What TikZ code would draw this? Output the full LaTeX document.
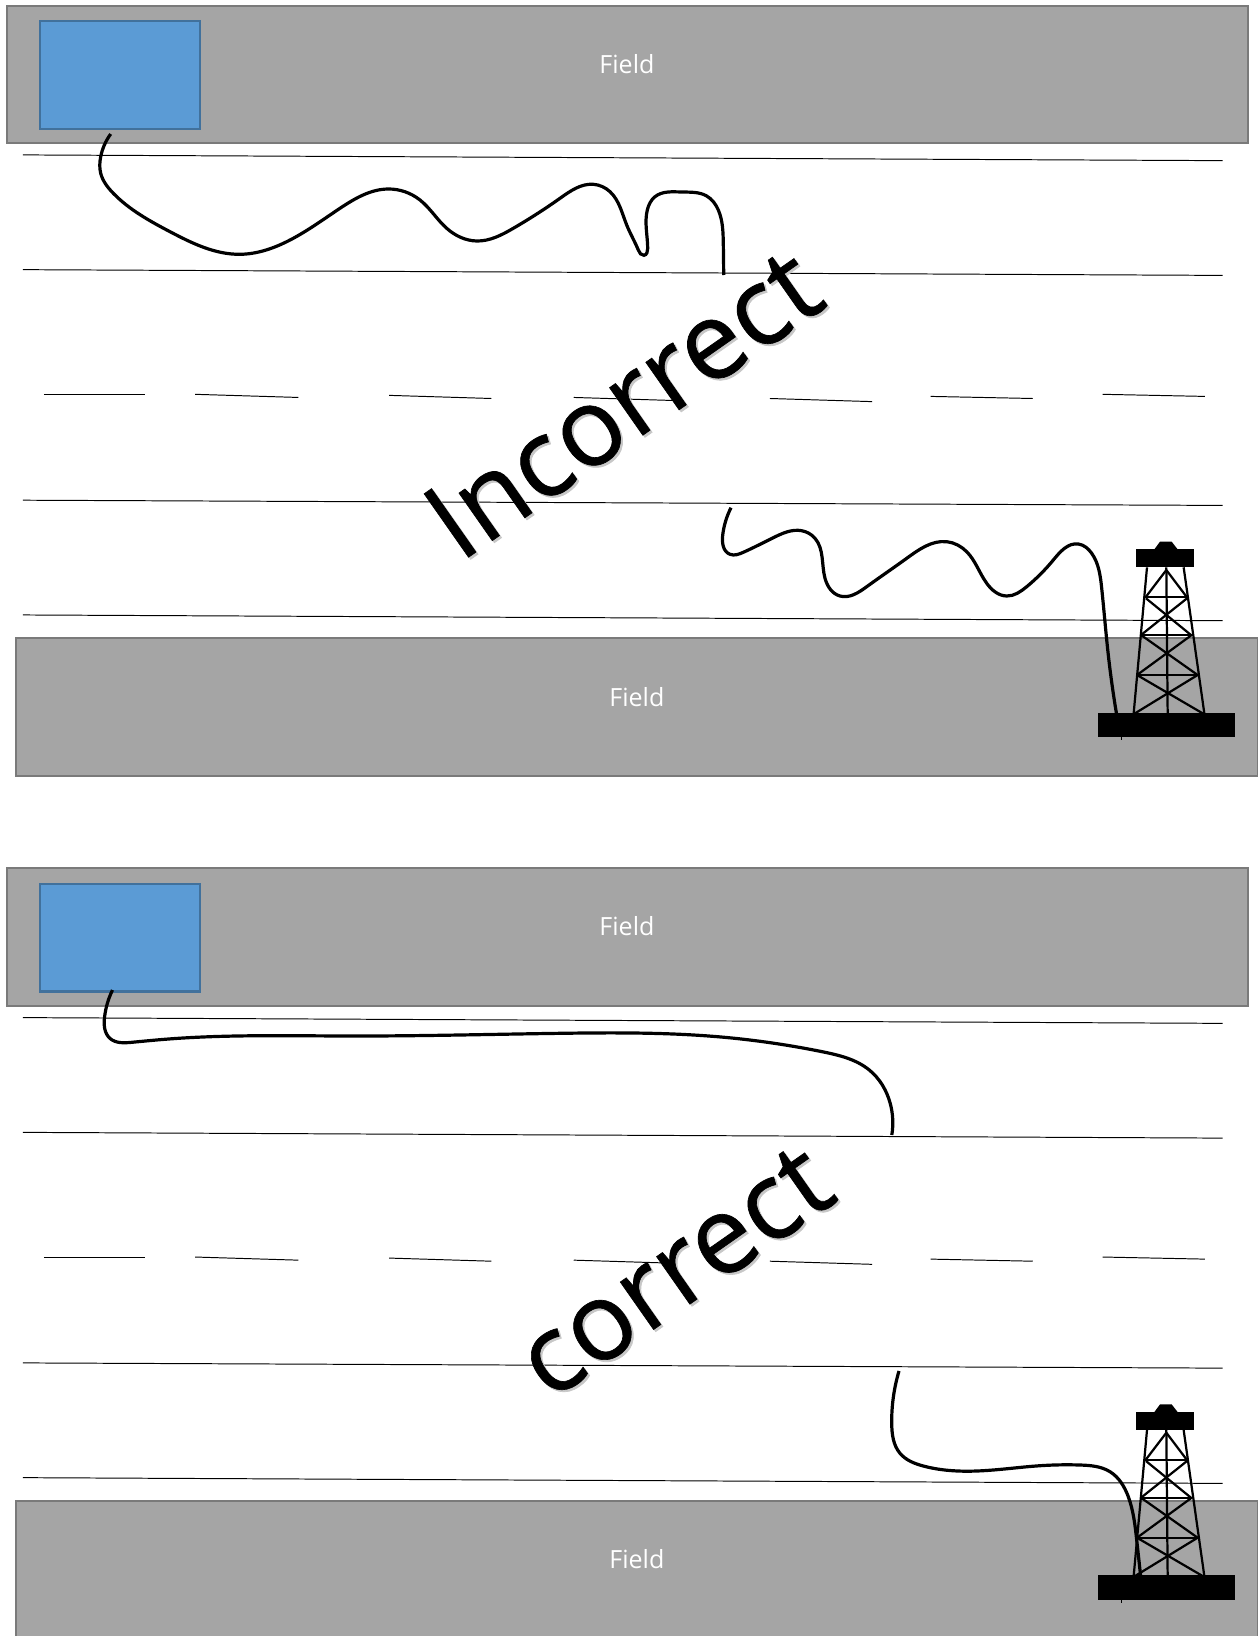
\documentclass[tikz,border=0pt]{standalone}
\usepackage{fontspec}
\setmainfont{Open Sans}
\usetikzlibrary{hobby}
\newfontfamily\bigfont[FakeBold=0.6]{Open Sans}
\tikzset{
  field/.style={draw=fieldedge,fill=fieldgray,line width=1.5pt},
  fieldtext/.style={text=white,font=\fontsize{18}{20}\selectfont},
  road/.style={draw=black,line width=0.7pt},
  wire/.style={draw=black,line width=2.3pt,use Hobby shortcut,line cap=butt},
  truss/.style={draw=black,line width=1.6pt},
  bluebox/.style={draw=blueedge,fill=bluefill,line width=1.5pt},
  bigtext/.style={font=\bigfont\fontsize{78}{80}\selectfont,rotate=35,text=black},
  bigshadow/.style={font=\bigfont\fontsize{78}{80}\selectfont,rotate=35,text=black!22},
  fullpx/.style={x=0.71897pt,y=-0.71897pt}
}
\definecolor{fieldgray}{HTML}{A5A5A5}
\definecolor{fieldedge}{HTML}{7A7A7A}
\definecolor{bluefill}{HTML}{5B9BD5}
\definecolor{blueedge}{HTML}{41719C}
\newcommand{\mysceneback}{%
  \node[field,minimum width=1190*.75pt,minimum height=132*.75pt,anchor=north west,inner sep=0pt] (topfield) at (5.5,4.5) {};
  \node[fieldtext] (toplabel) at (601,61) {Field};
  \node[bluebox,minimum width=153*.75pt,minimum height=103*.75pt,anchor=north west,inner sep=0pt] (box) at (37.5,19.5) {};
  \foreach \ya/\yb in {148.5/154,258.5/264,479.5/484.5,589.5/595}{
    \draw[road] (22,\ya) -- (1172,\yb);
  }
  \foreach \xa/\ya/\xb/\yb in {42/378/139/378,187/378/286/381,373/379/471/382,550/381/648/384,738/382/836/385,892/380/990/382,1057/378/1155/380}{
    \draw[road] (\xa,\ya) -- (\xb,\yb);
  }
  \node[field,minimum width=1191*.75pt,minimum height=132*.75pt,anchor=north west,inner sep=0pt] (botfield) at (14,610.5) {};
  \node[fieldtext] (botlabel) at (610.5,668) {Field};
  \begin{scope}[shift={(1017.1,498.5)},x=0.3195*.75pt,y=-0.3195*.75pt]
    \fill[black] (111,578) rectangle (523,651);
    \fill[black] (225,88) rectangle (399,142);
    \fill[black] (280,88) -- (297,65) -- (332,65) -- (350,88) -- cycle;
    \draw[truss] (258,142) -- (218,580);
    \draw[truss] (368,142) -- (430,580);
    \draw[truss] (316,142) -- (320,580);
    \draw[truss] (252,232) -- (378,232);
    \draw[truss] (240,346) -- (392,346);
    \draw[truss] (228,465) -- (410,465);
    \draw[truss] (316,150) -- (255,230);
    \draw[truss] (316,150) -- (378,232);
    \draw[truss] (255,235) -- (390,345);
    \draw[truss] (378,235) -- (240,345);
    \draw[truss] (240,345) -- (410,465);
    \draw[truss] (392,345) -- (228,465);
    \draw[truss] (228,465) -- (425,580);
    \draw[truss] (410,465) -- (222,580);
    \draw[black,line width=0.5pt] (181,650) -- (181,660);
  \end{scope}
}
\begin{document}
\begin{tikzpicture}[x=0.75pt,y=-0.75pt]
\useasboundingbox (0,0) rectangle (1205,1568.3);
% upper scene
\begin{scope}
  \mysceneback
  \node[bigshadow] (incshadow) at (599,388) {Incorrect};
  \node[bigtext] (inc) at (597,386) {Incorrect};
\end{scope}
% lower scene
\begin{scope}[yshift=-827*.75pt]
  \mysceneback
  \node[bigshadow] (corshadow) at (649,394) {correct};
  \node[bigtext] (cor) at (647,392) {correct};
\end{scope}
% wires, in the reference's full-size pixels
\begin{scope}[fullpx]
  \draw[wire] (110.7,134) .. (100.7,156.7) .. (100.7,173.3) .. (113.3,193.3) .. (170,231.7) .. (240,254.3) .. (286.7,241.7) .. (340,208.3) .. (388.3,189) .. (420,200) .. (446.7,228.3) .. (476.7,241) .. (513.3,228.3) .. (560,198.3) .. (593.3,184.3) .. (610,191.7) .. (626.7,225) .. (638.3,250) .. (644,255.3) .. (647.7,248.3) .. (647.3,210) .. (655,196.7) .. (681.7,192) .. (706.7,196) .. (718.3,210) .. (723.3,243.3) .. (723.7,275);
  \draw[wire] (731,507.7) .. (722.7,535) .. (730,554.3) .. (743.3,552.3) .. (773.3,537.7) .. (801.7,530.7) .. (815,538.3) .. (825,578.3) .. (840,596) .. (866.7,586.7) .. (906.7,558.3) .. (946.7,541.7) .. (966.7,551.7) .. (986.7,583.3) .. (1006.7,596) .. (1026.7,586.7) .. (1053.3,560) .. (1078.3,544) .. (1091.7,553.3) .. (1101.7,588.3) .. (1108.3,655) .. (1116.7,715);
  \draw[wire] (112.5,990) .. (104.6,1016.7) .. (109.9,1038.3) .. (131.8,1042.3) .. (168.5,1039) .. (351.5,1036) .. (560.7,1033.3) .. (717.6,1036.7) .. (822.2,1051.7) .. (869.3,1070) .. (890.2,1103.3) .. (891.8,1135);
  \draw[wire] (899,1371) .. (891.7,1423.3) .. (900,1453.3) .. (923.3,1466) .. (976.7,1471) .. (1040,1465.7) .. (1080,1465) .. (1110,1471.7) .. (1128.3,1496.7) .. (1136.7,1540) .. (1140.7,1576.7);
\end{scope}
\end{tikzpicture}
\end{document}
